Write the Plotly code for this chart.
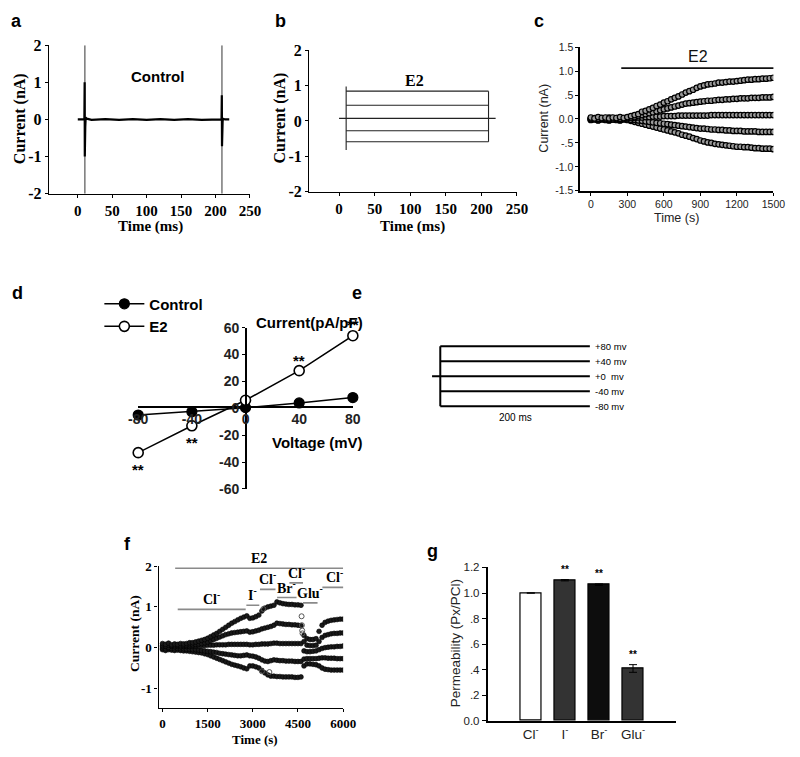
import plotly.graph_objects as go

W, H = 800, 757
def PX(v): return v / W
def PY(v): return 1 - v / H

SERIF = "Liberation Serif, Times New Roman, serif"
SANS = "Liberation Sans, Arial, sans-serif"
NARROW = "Liberation Sans Narrow, Liberation Sans, Arial Narrow, sans-serif"

# ---------------- data ----------------
# (a) Control: current trace (ms, nA)
a_time = [0, 9.6, 10.0, 10.2, 10.5, 10.9, 11.5, 13, 20, 40, 60, 80, 100, 120, 140, 160, 180, 200,
          208.8, 209.2, 209.5, 209.9, 210.4, 211, 214, 220]
a_current = [0, 0, 1.0, -1.0, 0.25, -0.2, 0.05, 0.02, -0.01, 0.01, -0.01, 0.01, -0.01, 0.01, -0.01, 0.01, -0.01, 0.01,
             0, 0.65, -0.72, 0.15, -0.05, 0.02, 0, 0]
a_transient_time = [10.3, 209.4]
ab_xticks = [0, 50, 100, 150, 200, 250]
ab_yticks = [-2, -1, 0, 1, 2]
ab_yticktext = ["-2", "-1", "0", "1", "2"]

# (b) E2: step currents (nA)
b_levels = [0.84, 0.44, 0.07, -0.28, -0.59]
b_step_on, b_step_off, b_trace_end = 10, 210, 220
b_onset_range = [-0.82, 0.97]

# (c) time course (s, nA)
c_time = list(range(0, 1501, 30))
c_trace1 = [0.03, 0.01, 0.04, 0.02, 0.03, 0.01, 0.03, 0.02, 0.04, 0.02,
            0.04, 0.06, 0.08, 0.10, 0.15, 0.17, 0.20, 0.23, 0.27, 0.30,
            0.34, 0.37, 0.41, 0.44, 0.47, 0.51, 0.55, 0.58, 0.61, 0.65,
            0.68, 0.70, 0.72, 0.73, 0.74, 0.76, 0.76, 0.77, 0.78, 0.78,
            0.79, 0.80, 0.81, 0.82, 0.82, 0.83, 0.83, 0.84, 0.84, 0.85, 0.86]
c_trace2 = [0.01, 0.02, 0.00, 0.02, 0.01, 0.03, 0.01, 0.02, 0.00, 0.02,
            0.02, 0.03, 0.04, 0.06, 0.08, 0.10, 0.12, 0.14, 0.16, 0.18,
            0.20, 0.22, 0.24, 0.26, 0.28, 0.30, 0.32, 0.33, 0.34, 0.35,
            0.36, 0.37, 0.38, 0.38, 0.39, 0.40, 0.40, 0.41, 0.41, 0.42,
            0.42, 0.43, 0.43, 0.43, 0.44, 0.44, 0.44, 0.45, 0.45, 0.45, 0.46]
c_trace3 = [0.00, 0.01, -0.01, 0.02, 0.00, 0.01, -0.01, 0.01, 0.00, 0.01,
            0.01, 0.02, 0.02, 0.03, 0.03, 0.04, 0.04, 0.05, 0.05, 0.05,
            0.06, 0.06, 0.06, 0.06, 0.07, 0.07, 0.07, 0.07, 0.07, 0.07,
            0.07, 0.07, 0.07, 0.08, 0.08, 0.08, 0.08, 0.08, 0.08, 0.08,
            0.08, 0.08, 0.08, 0.08, 0.08, 0.08, 0.08, 0.08, 0.08, 0.08, 0.08]
c_trace4 = [-0.01, 0.00, -0.02, 0.00, -0.01, -0.02, 0.00, -0.01, -0.02, 0.00,
            -0.01, -0.02, -0.02, -0.03, -0.04, -0.05, -0.06, -0.07, -0.08, -0.09,
            -0.10, -0.11, -0.12, -0.13, -0.14, -0.15, -0.16, -0.17, -0.18, -0.19,
            -0.20, -0.20, -0.21, -0.22, -0.22, -0.23, -0.23, -0.24, -0.24, -0.25,
            -0.25, -0.25, -0.26, -0.26, -0.26, -0.26, -0.27, -0.27, -0.27, -0.27, -0.27]
c_trace5 = [-0.02, -0.01, -0.03, -0.01, -0.02, -0.03, -0.01, -0.02, -0.03, -0.01,
            -0.02, -0.04, -0.06, -0.08, -0.10, -0.12, -0.14, -0.16, -0.18, -0.20,
            -0.22, -0.24, -0.26, -0.28, -0.30, -0.33, -0.35, -0.37, -0.40, -0.42,
            -0.45, -0.47, -0.49, -0.50, -0.52, -0.53, -0.54, -0.55, -0.56, -0.57,
            -0.58, -0.58, -0.59, -0.59, -0.60, -0.61, -0.61, -0.62, -0.62, -0.62, -0.63]
c_e2_start, c_e2_end, c_e2_level = 250, 1510, 1.06
c_xticks = [0, 300, 600, 900, 1200, 1500]
c_yticks = [-1.5, -1.0, -0.5, 0.0, 0.5, 1.0, 1.5]
c_yticktext = ["-1.5", "-1.0", "-.5", "0.0", ".5", "1.0", "1.5"]

# (d) I-V relation
d_voltage = [-80, -40, 0, 40, 80]
d_voltage_text = ["-80", "-40", "0", "40", "80"]
d_control = [-5, -2.5, 0.5, 4, 8]
d_control_err = [1.0, 0.8, 0.5, 1.0, 3.0]
d_e2 = [-33, -13, 6, 28, 54]
d_e2_err = [2.0, 1.5, 1.0, 1.5, 2.0]
d_e2_sig = ["**", "**", "", "**", "**"]
d_yticks = [-60, -40, -20, 0, 20, 40, 60]
d_yticktext = ["-60", "-40", "-20", "0", "20", "40", "60"]

# (e) voltage protocol
e_voltages = [80, 40, 0, -40, -80]
e_labels = ["+80 mv", "+40 mv", "+0  mv", "-40 mv", "-80 mv"]
e_duration = 200

# (f) ion substitution time course (s, nA)
f_time = list(range(0, 6001, 100))
f_trace1 = [0.10, 0.08, 0.11, 0.07, 0.09, 0.08, 0.10, 0.09, 0.10, 0.12, 0.12,
            0.14, 0.16, 0.18, 0.20, 0.23, 0.27, 0.31, 0.35, 0.40, 0.45,
            0.50, 0.55, 0.60, 0.64, 0.68, 0.72, 0.75, 0.78, 0.72, 0.73,
            0.76, 0.80, 0.90, 0.97, 1.00, 1.02, 1.04, 1.12, 1.10, 1.08,
            1.07, 1.06, 1.06, 1.05, 1.05, 1.04, 0.30, 0.22, 0.20, 0.20,
            0.22, 0.40, 0.55, 0.62, 0.65, 0.67, 0.68, 0.69, 0.70, 0.70]
f_trace2 = [0.05, 0.04, 0.06, 0.05, 0.05, 0.06, 0.05, 0.06, 0.06, 0.07, 0.07,
            0.08, 0.09, 0.10, 0.12, 0.14, 0.17, 0.20, 0.23, 0.26, 0.29,
            0.32, 0.34, 0.36, 0.37, 0.38, 0.39, 0.40, 0.41, 0.38, 0.39,
            0.41, 0.43, 0.46, 0.48, 0.50, 0.52, 0.55, 0.60, 0.59, 0.58,
            0.57, 0.57, 0.56, 0.56, 0.55, 0.54, 0.15, 0.06, 0.05, 0.05,
            0.06, 0.15, 0.25, 0.30, 0.32, 0.34, 0.35, 0.35, 0.36, 0.36]
f_trace3 = [0.02, 0.03, 0.01, 0.03, 0.02, 0.03, 0.02, 0.03, 0.03, 0.03, 0.04,
            0.04, 0.05, 0.05, 0.05, 0.06, 0.06, 0.06, 0.07, 0.07, 0.07,
            0.07, 0.08, 0.08, 0.08, 0.08, 0.08, 0.08, 0.08, 0.07, 0.07,
            0.08, 0.08, 0.09, 0.09, 0.09, 0.10, 0.11, 0.11, 0.10, 0.10,
            0.10, 0.10, 0.10, 0.10, 0.10, 0.10, -0.08, -0.10, -0.10, -0.09,
            -0.08, -0.05, -0.02, 0.00, 0.01, 0.02, 0.02, 0.03, 0.03, 0.04]
f_trace4 = [-0.02, -0.03, -0.01, -0.02, -0.03, -0.02, -0.03, -0.03, -0.04, -0.04, -0.05,
            -0.05, -0.06, -0.07, -0.08, -0.09, -0.10, -0.11, -0.12, -0.14, -0.15,
            -0.16, -0.17, -0.18, -0.19, -0.20, -0.20, -0.19, -0.18, -0.20, -0.21,
            -0.23, -0.26, -0.30, -0.33, -0.34, -0.32, -0.30, -0.31, -0.32, -0.32,
            -0.33, -0.33, -0.33, -0.34, -0.34, -0.34, -0.28, -0.27, -0.27, -0.27,
            -0.27, -0.26, -0.25, -0.25, -0.26, -0.26, -0.26, -0.27, -0.27, -0.27]
f_trace5 = [-0.05, -0.07, -0.05, -0.06, -0.07, -0.06, -0.07, -0.08, -0.08, -0.09, -0.10,
            -0.11, -0.12, -0.13, -0.15, -0.17, -0.20, -0.23, -0.26, -0.29, -0.32,
            -0.35, -0.38, -0.41, -0.43, -0.45, -0.47, -0.50, -0.52, -0.45, -0.45,
            -0.47, -0.50, -0.56, -0.62, -0.67, -0.70, -0.70, -0.71, -0.71, -0.72,
            -0.72, -0.72, -0.72, -0.73, -0.73, -0.72, -0.45, -0.40, -0.40, -0.41,
            -0.42, -0.45, -0.50, -0.53, -0.54, -0.55, -0.55, -0.55, -0.55, -0.55]
f_extra_time = [4620, 4630, 4640, 4650, 3300, 3550, 3350]
f_extra_current = [0.77, 0.55, 0.42, 0.35, -0.58, -0.60, 0.95]
f_bar_labels = ["E2", "Cl<sup>-</sup>", "I<sup>-</sup>", "Cl<sup>-</sup>", "Br<sup>-</sup>",
                "Cl<sup>-</sup>", "Glu<sup>-</sup>", "Cl<sup>-</sup>"]
f_bar_start = [420, 505, 2785, 3237, 3806, 4216, 4667, 5310]
f_bar_end = [6000, 2763, 3215, 3753, 4452, 4667, 5150, 6100]
f_bar_level = [1.95, 0.94, 1.04, 1.43, 1.23, 1.59, 1.10, 1.48]
f_xticks = [0, 1500, 3000, 4500, 6000]
f_yticks = [-1, 0, 1, 2]
f_yticktext = ["-1", "0", "1", "2"]

# (g) permeability ratios
g_ions = ["Cl<sup>-</sup>", "I<sup>-</sup>", "Br<sup>-</sup>", "Glu<sup>-</sup>"]
g_perm = [1.0, 1.10, 1.065, 0.41]
g_err = [0.0, 0.005, 0.006, 0.03]
g_sig = ["", "**", "**", "**"]
g_colors = ["white", "#333333", "#0d0d0d", "#333333"]
g_yticks = [0, 0.2, 0.4, 0.6, 0.8, 1.0, 1.2]
g_yticktext = ["0.0", ".2", ".4", ".6", ".8", "1.0", "1.2"]

# ---------------- figure ----------------
def F(family, size, bold=False, color="black"):
    return dict(family=family, size=size, color=color, weight=700 if bold else 400)

fig = go.Figure()
NOHOVER = dict(hoverinfo="skip", showlegend=False)

# (a)
for t in a_transient_time:
    fig.add_trace(go.Scatter(x=[t, t], y=[ab_yticks[0], ab_yticks[-1]], mode="lines",
                             line=dict(color="#6e6e6e", width=1.4), xaxis="x", yaxis="y", **NOHOVER))
fig.add_trace(go.Scatter(x=a_time, y=a_current, mode="lines", line=dict(color="black", width=2.2),
                         xaxis="x", yaxis="y", **NOHOVER))

# (b)
for i, lv in enumerate(b_levels):
    x0 = 0 if i == 2 else b_step_on
    x1 = b_trace_end if i == 2 else b_step_off
    fig.add_trace(go.Scatter(x=[x0, x1], y=[lv, lv], mode="lines", line=dict(color="#222", width=1.1),
                             xaxis="x2", yaxis="y2", **NOHOVER))
fig.add_trace(go.Scatter(x=[b_step_on, b_step_on], y=b_onset_range, mode="lines",
                         line=dict(color="#222", width=1.1), xaxis="x2", yaxis="y2", **NOHOVER))
fig.add_trace(go.Scatter(x=[b_step_off, b_step_off], y=[b_levels[-1], b_levels[0]], mode="lines",
                         line=dict(color="#222", width=1.1), xaxis="x2", yaxis="y2", **NOHOVER))

# (c)
for tr in [c_trace5, c_trace4, c_trace3, c_trace2, c_trace1]:
    fig.add_trace(go.Scatter(x=c_time, y=tr, mode="markers",
                             marker=dict(symbol="circle", size=5.5, color="#9a9a9a",
                                         line=dict(color="#000", width=1.2)),
                             xaxis="x3", yaxis="y3", **NOHOVER))
fig.add_trace(go.Scatter(x=[c_e2_start, c_e2_end], y=[c_e2_level, c_e2_level], mode="lines",
                         line=dict(color="#111", width=1.8), xaxis="x3", yaxis="y3",
                         cliponaxis=False, **NOHOVER))

# (d)
fig.add_trace(go.Scatter(x=d_voltage, y=d_control, mode="lines+markers", name="Control",
                         line=dict(color="black", width=1.5),
                         marker=dict(symbol="circle", size=10, color="black", line=dict(color="black", width=1.2)),
                         error_y=dict(type="data", array=d_control_err, color="black", thickness=1.2, width=3),
                         xaxis="x4", yaxis="y4", cliponaxis=False, hoverinfo="skip", showlegend=True))
fig.add_trace(go.Scatter(x=d_voltage, y=d_e2, mode="lines+markers", name="E2",
                         line=dict(color="black", width=1.5),
                         marker=dict(symbol="circle", size=10, color="white", line=dict(color="black", width=1.6)),
                         error_y=dict(type="data", array=d_e2_err, color="black", thickness=1.2, width=3),
                         xaxis="x4", yaxis="y4", cliponaxis=False, hoverinfo="skip", showlegend=True))

# (e)
for v in e_voltages:
    x0 = -11 if v == 0 else 0
    fig.add_trace(go.Scatter(x=[x0, e_duration], y=[v, v], mode="lines", line=dict(color="black", width=2),
                             xaxis="x5", yaxis="y5", **NOHOVER))
fig.add_trace(go.Scatter(x=[0, 0], y=[min(e_voltages), max(e_voltages)], mode="lines",
                         line=dict(color="black", width=2), xaxis="x5", yaxis="y5", **NOHOVER))

# (f)
for s, e, lv in zip(f_bar_start, f_bar_end, f_bar_level):
    fig.add_trace(go.Scatter(x=[s, e], y=[lv, lv], mode="lines", line=dict(color="#8a8a8a", width=1.6),
                             xaxis="x6", yaxis="y6", cliponaxis=False, **NOHOVER))
for tr in [f_trace5, f_trace4, f_trace3, f_trace2, f_trace1]:
    fig.add_trace(go.Scatter(x=f_time, y=tr, mode="markers",
                             marker=dict(symbol="circle", size=4.8, color="#1a1a1a",
                                         line=dict(color="#000", width=0.6)),
                             xaxis="x6", yaxis="y6", **NOHOVER))
fig.add_trace(go.Scatter(x=f_extra_time, y=f_extra_current, mode="markers",
                         marker=dict(symbol="circle-open", size=5, color="#555", line=dict(width=1)),
                         xaxis="x6", yaxis="y6", **NOHOVER))

# (g)
fig.add_trace(go.Bar(x=list(range(len(g_ions))), y=g_perm, width=0.61,
                     marker=dict(color=g_colors, line=dict(color="black", width=1.2)),
                     error_y=dict(type="data", array=g_err, color="black", thickness=1, width=4),
                     xaxis="x7", yaxis="y7", hoverinfo="skip", showlegend=False))

# ---------------- axes ----------------
def ax(domain, rng, **kw):
    d = dict(domain=domain, range=rng, showgrid=False, zeroline=False, showline=True,
             linecolor="black", linewidth=1.3, ticks="outside", ticklen=4, tickwidth=1,
             tickcolor="black", fixedrange=True)
    d.update(kw)
    return d

layout = dict(
    width=W, height=H, margin=dict(l=0, r=0, t=0, b=0, pad=0),
    paper_bgcolor="white", plot_bgcolor="white", bargap=0,
    xaxis=ax([PX(40), PX(247)], [-42, 250], anchor="y", tickvals=ab_xticks,
             tickfont=F(SERIF, 15, True), ticklen=3),
    yaxis=ax([PY(190), PY(38)], [-2, 2], anchor="x", tickvals=ab_yticks, ticktext=ab_yticktext,
             tickfont=F(SERIF, 16, True), ticklen=3),
    xaxis2=ax([PX(308), PX(522)], [-42, 250], anchor="y2", tickvals=ab_xticks,
              tickfont=F(SERIF, 15, True), ticklen=3),
    yaxis2=ax([PY(188), PY(43)], [-2, 2], anchor="x2", tickvals=ab_yticks, ticktext=ab_yticktext,
              tickfont=F(SERIF, 16, True), ticklen=3),
    xaxis3=ax([PX(587), PX(786)], [-88, 1500], anchor="y3", tickvals=c_xticks,
              tickfont=F(SANS, 10.5, False, "#222"), linewidth=1.5, ticklen=3),
    yaxis3=ax([PY(187), PY(40)], [-1.5, 1.5], anchor="x3", tickvals=c_yticks, ticktext=c_yticktext,
              tickfont=F(SANS, 10.5, False, "#222"), linewidth=1.5, ticklen=3),
    xaxis4=ax([PX(132), PX(353)], [-80, 80], anchor="free", position=PY(408),
              tickvals=d_voltage, ticktext=d_voltage_text, ticks="",
              tickfont=F(SANS, 14, True, "#222"), linewidth=1.5),
    yaxis4=ax([PY(492), PY(327)], [-60, 60], anchor="free", position=PX(243),
              tickvals=d_yticks, ticktext=d_yticktext, ticks="outside", ticklen=3,
              tickfont=F(SANS, 14, True, "#222"), linewidth=1.8),
    xaxis5=dict(domain=[PX(420), PX(660)], range=[-29.9, 281.8], visible=False, anchor="y5", fixedrange=True),
    yaxis5=dict(domain=[PY(430), PY(330)], range=[-139.3, 121.8], visible=False, anchor="x5", fixedrange=True),
    xaxis6=ax([PX(153), PX(343)], [-130, 6000], anchor="y6", tickvals=f_xticks,
              tickfont=F(SERIF, 13, True), ticklen=3),
    yaxis6=ax([PY(716), PY(571)], [-1.48, 2], anchor="x6", tickvals=f_yticks, ticktext=f_yticktext,
              tickfont=F(SERIF, 13, True), ticklen=3),
    xaxis7=ax([PX(491.7), PX(686)], [-1.27, 4.27], anchor="y7", tickvals=list(range(len(g_ions))),
              ticktext=g_ions, ticks="", tickfont=F(SANS, 13.5, False, "#222"), linewidth=1.5),
    yaxis7=ax([PY(729.3), PY(572.3)], [0, 1.2], anchor="x7", tickvals=g_yticks, ticktext=g_yticktext,
              tickfont=F(SANS, 11.5, False, "#222"), linewidth=1.5),
    legend=dict(x=PX(92), y=PY(286), xanchor="left", yanchor="top", bgcolor="rgba(0,0,0,0)",
                font=F(SANS, 15, True), tracegroupgap=0, itemwidth=40),
)

# ---------------- annotations ----------------
ann = []
def A(text, x, y, font, xref="paper", yref="paper", xanchor="center", yanchor="middle", angle=0, **kw):
    d = dict(text=text, x=x, y=y, xref=xref, yref=yref, showarrow=False, font=font,
             xanchor=xanchor, yanchor=yanchor, textangle=angle)
    d.update(kw)
    ann.append(d)

# panel letters
for letter, x, y in [("a", 7, 13), ("b", 278, 13), ("c", 545, 13), ("d", 8, 292),
                     ("e", 357, 292), ("f", 121, 548), ("g", 435, 555)]:
    A(letter, PX(x), PY(y), F(SANS, 18, True))

# (a)
A("Current (nA)", PX(11), PY(113), F(SERIF, 16, True), angle=-90)
A("Time (ms)", PX(145), PY(224), F(SERIF, 15, True))
A("Control", 116, 1.15, F(SANS, 15, True), xref="x", yref="y")
# (b)
A("Current (nA)", PX(278), PY(113), F(SERIF, 16, True), angle=-90)
A("Time (ms)", PX(414), PY(224), F(SERIF, 15, True))
A("E2", 106, 1.15, F(SERIF, 16, True), xref="x2", yref="y2")
# (c)
A("Current (nA)", PX(550), PY(113), F(SANS, 12.5, False, "#222"), angle=-90)
A("Time (s)", PX(686), PY(215), F(SANS, 12.5, False, "#222"))
A("E2", (c_e2_start + c_e2_end) / 2, c_e2_level, F(SANS, 16, False, "#111"),
  xref="x3", yref="y3", yanchor="bottom", yshift=1)
# (d)
A("Current(pA/pF)", PX(308), PY(322), F(SANS, 15, True))
A("Voltage (mV)", PX(317), PY(444), F(SANS, 15, True))
for v, val, err, s in zip(d_voltage, d_e2, d_e2_err, d_e2_sig):
    if s:
        if val < 0:
            A(s, v, val - err, F(SANS, 15, True), xref="x4", yref="y4", yanchor="top", yshift=-4)
        else:
            A(s, v, val + err, F(SANS, 15, True), xref="x4", yref="y4", yanchor="bottom", yshift=-2)
# (e)
for v, lab in zip(e_voltages, e_labels):
    A(lab, e_duration, v, F(NARROW, 9.5), xref="x5", yref="y5", xanchor="left", xshift=3)
A(f"{e_duration} ms", e_duration / 2, min(e_voltages), F(NARROW, 10), xref="x5", yref="y5",
  yanchor="top", yshift=-4)
# (f)
A("Current (nA)", PX(128), PY(640), F(SERIF, 13.5, True), angle=-90)
A("Time (s)", PX(252), PY(748), F(SERIF, 13, True))
for lab, s, e, lv in zip(f_bar_labels, f_bar_start, f_bar_end, f_bar_level):
    A(lab, (s + e) / 2, lv, F(SERIF, 14, True), xref="x6", yref="y6", yanchor="bottom", yshift=0)
# (g)
A("Permeability (Px/PCl)", PX(459), PY(650), F(SANS, 13.5, False, "#222"), angle=-90)
for i, (val, err, s) in enumerate(zip(g_perm, g_err, g_sig)):
    if s:
        A(s, i, val + err, F(SANS, 10, True), xref="x7", yref="y7", yanchor="bottom", yshift=3)

layout["annotations"] = ann
fig.update_layout(**layout)
fig.write_html("out.html", config={"displayModeBar": False},
               post_script="document.body.style.margin='0px';document.body.style.overflow='hidden';")
